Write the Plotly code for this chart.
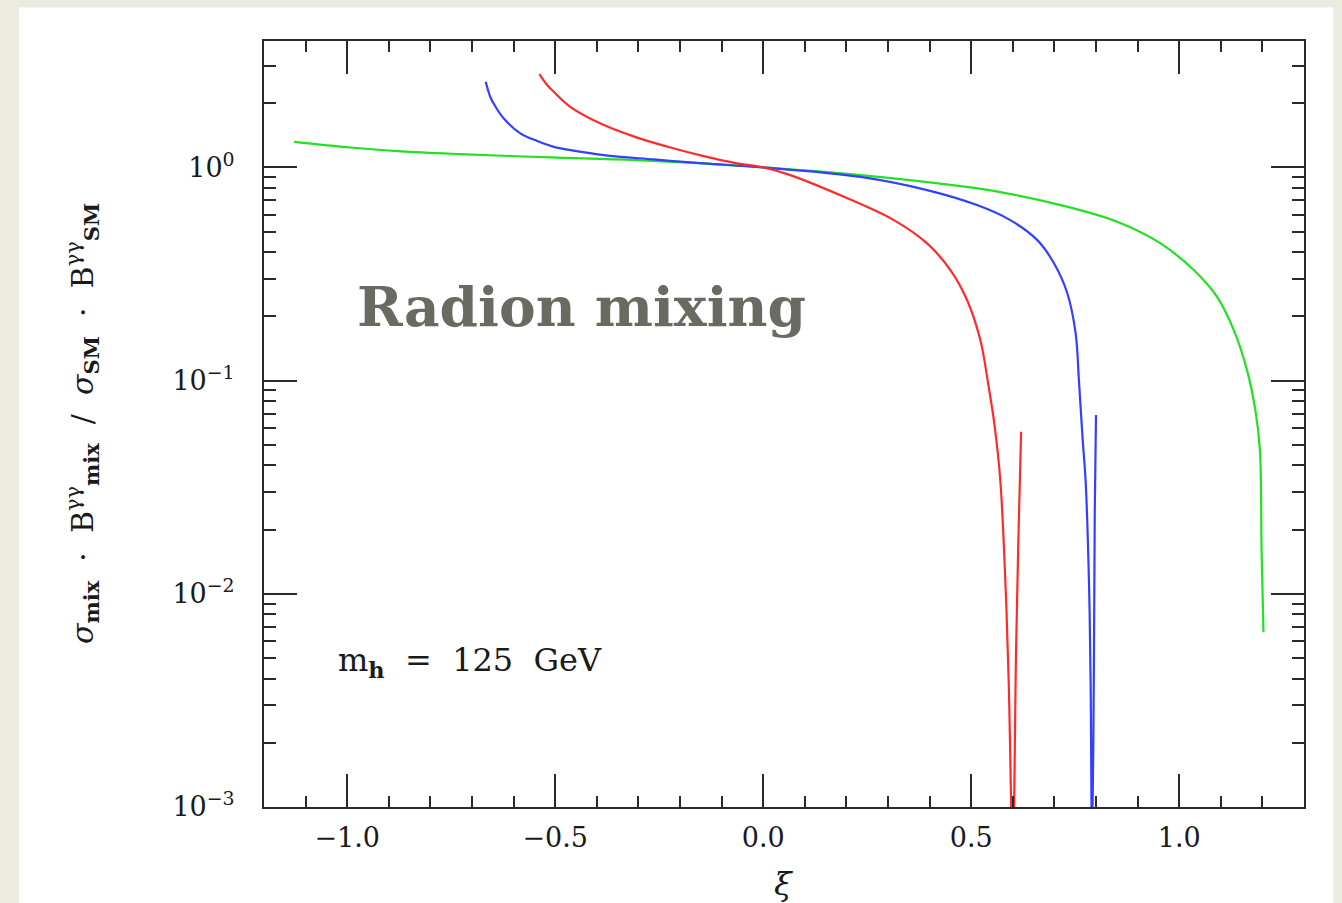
import plotly.graph_objects as go

# ---- data ----
red_x = [-0.538, -0.519, -0.503, -0.463, -0.383, -0.303, -0.223, -0.143, -0.0625,
         0.0, 0.0616, 0.194, 0.314, 0.394, 0.45, 0.49, 0.522, 0.540, 0.556, 0.570, 0.582, 0.590,
         0.600, 0.608, 0.614, 0.620]
red_y = [2.74, 2.43, 2.26, 1.92, 1.58, 1.38, 1.24, 1.13, 1.045,
         1.0, 0.925, 0.728, 0.566, 0.44, 0.33, 0.239, 0.155, 0.099, 0.062, 0.034, 0.0116, 0.00395,
         0.0006, 0.00565, 0.0199, 0.0576]

blue_x = [-0.667, -0.656, -0.643, -0.624, -0.583, -0.543, -0.503, -0.463, -0.383, -0.263, -0.143, 0.0,
          0.234, 0.394, 0.514, 0.594, 0.659, 0.699, 0.731, 0.751, 0.759, 0.768, 0.775, 0.783, 0.787,
          0.7905, 0.795, 0.797, 0.800]
blue_y = [2.52, 2.14, 1.92, 1.70, 1.44, 1.33, 1.249, 1.205, 1.142, 1.09, 1.044, 1.0,
          0.903, 0.783, 0.666, 0.566, 0.456, 0.355, 0.257, 0.167, 0.1, 0.0527, 0.034, 0.0116, 0.00395,
          0.0006, 0.00473, 0.0239, 0.069]

green_x = [-1.128, -0.992, -0.87, -0.73, -0.511, -0.303, 0.0, 0.234, 0.474, 0.570, 0.715, 0.851,
           0.955, 1.035, 1.091, 1.131, 1.163, 1.183, 1.194, 1.198, 1.2026]
green_y = [1.318, 1.24, 1.19, 1.155, 1.114, 1.081, 1.0, 0.92, 0.817, 0.766, 0.666, 0.556,
           0.44, 0.33, 0.247, 0.173, 0.112, 0.0728, 0.0473, 0.016, 0.0066]

x_ticks = [-1.0, -0.5, 0.0, 0.5, 1.0]
x_ticktext = ["\u22121.0", "\u22120.5", "0.0", "0.5", "1.0"]
y_ticks = [1e-3, 1e-2, 1e-1, 1e0]
y_ticktext = ["10<sup>\u22123</sup>", "10<sup>\u22122</sup>", "10<sup>\u22121</sup>", "10<sup>0</sup>"]
y_minor = [k * 10.0 ** e for e in (-3, -2, -1, 0) for k in range(2, 10)]

FONT = "DejaVu Serif"
AX = "#2a2a2a"
TXT = "#1a1a1a"

fig = go.Figure()
for xs, ys, col in [(green_x, green_y, "#22e022"), (blue_x, blue_y, "#3340ff"), (red_x, red_y, "#ff2b2b")]:
    fig.add_trace(go.Scatter(x=xs, y=ys, mode="lines",
                             line=dict(color=col, width=2.2, shape="spline", smoothing=1.0),
                             showlegend=False, hoverinfo="skip"))

fig.update_layout(
    width=1342, height=903,
    margin=dict(l=264, r=38, t=41, b=96),
    paper_bgcolor="#ecebe2",
    plot_bgcolor="white",
    showlegend=False,
    font=dict(family=FONT, color=TXT),
)

fig.add_shape(type="rect", xref="paper", yref="paper", x0=-0.2356, x1=1.0282, y0=-0.3, y1=1.0436,
              fillcolor="white", line=dict(width=0), layer="below")

fig.update_xaxes(
    range=[-1.2, 1.3], tickmode="array", tickvals=x_ticks, ticktext=x_ticktext,
    ticks="inside", ticklen=33, tickwidth=2, tickcolor=AX,
    minor=dict(tickmode="linear", tick0=0, dtick=0.1, ticks="inside", ticklen=11, tickwidth=2, tickcolor=AX),
    showline=True, linecolor=AX, linewidth=2, mirror="ticks", showgrid=False, zeroline=False,
    tickfont=dict(family=FONT, size=27, color=TXT), ticklabelstandoff=6,
)
fig.update_yaxes(
    type="log", range=[-3, 0.593], tickmode="array", tickvals=y_ticks, ticktext=y_ticktext,
    ticks="inside", ticklen=33, tickwidth=2, tickcolor=AX,
    minor=dict(tickmode="array", tickvals=y_minor, ticks="inside", ticklen=12, tickwidth=2, tickcolor=AX),
    showline=True, linecolor=AX, linewidth=2, mirror="ticks", showgrid=False, zeroline=False,
    tickfont=dict(family=FONT, size=27, color=TXT), ticklabelstandoff=22,
)

fig.add_annotation(xref="paper", yref="paper", x=(783 - 264) / 1040, y=(807 - 884) / 766,
                   text="<i>\u03be</i>", showarrow=False, font=dict(family=FONT, size=32, color=TXT),
                   xanchor="center", yanchor="middle")
fig.add_annotation(xref="paper", yref="paper", x=(82 - 264) / 1040, y=(807 - 424) / 766,
                   text="<i>\u03c3</i><sub><b>mix</b></sub>  \u00b7  B<sup>\u03b3\u03b3</sup><sub><b>mix</b></sub>  /  "
                        "<i>\u03c3</i><sub><b>SM</b></sub>  \u00b7  B<sup>\u03b3\u03b3</sup><sub><b>SM</b></sub>",
                   textangle=-90, showarrow=False, font=dict(family=FONT, size=30, color=TXT),
                   xanchor="center", yanchor="middle")
fig.add_annotation(xref="paper", yref="paper", x=(581 - 264) / 1040, y=(807 - 306) / 766,
                   text="<b>Radion mixing</b>", showarrow=False,
                   font=dict(family=FONT, size=55, color="#6b6a62"), xanchor="center", yanchor="middle")
fig.add_annotation(xref="paper", yref="paper", x=(470 - 264) / 1040, y=(807 - 662) / 766,
                   text="m<sub><b>h</b></sub>  =  125  GeV", showarrow=False,
                   font=dict(family=FONT, size=32, color=TXT), xanchor="center", yanchor="middle")

fig.write_html("out.html")
